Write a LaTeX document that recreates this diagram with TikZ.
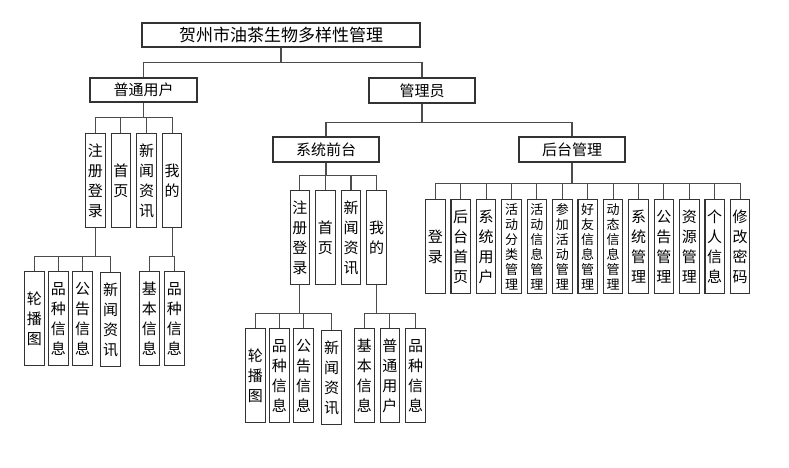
\documentclass[tikz,border=0pt]{standalone}
\usepackage{fontspec}
\newfontfamily\cjk{Noto Sans CJK SC}
\usepackage{tikz}
\usetikzlibrary{positioning}

\begin{document}
\begin{tikzpicture}[x=1pt, y=-1pt,
  box/.style={draw=black!80, line width=1.1pt, inner sep=0pt, align=center},
  hbox/.style={box, minimum width=106pt, minimum height=25pt, font=\cjk\fontsize{15}{18}\selectfont},
  vbox/.style={box, minimum width=19.5pt, minimum height=94pt, font=\cjk\fontsize{15}{20}\selectfont},
  vboxs/.style={vbox, font=\cjk\fontsize{13}{15}\selectfont},
  link/.style={draw=black!70, line width=1.1pt}
]
  \useasboundingbox (0,0) rectangle (789,468);

  % Level 1: Root and roles
  \node[hbox, minimum width=278pt, minimum height=24pt, font=\cjk\fontsize{17}{20}\selectfont] (root) at (281,35) {贺州市油茶生物多样性管理};
  \node[hbox, minimum width=107pt, minimum height=24pt] (user) at (143.5,90) {普通用户};
  \node[hbox] (admin) at (422,90.5) {管理员};
  \draw[link] (root.south) -- ++(0,15) -| (user.north);
  \draw[link] (root.south) -- ++(0,15) -| (admin.north);

  % Level 2: Admin parts
  \node[hbox] (front) at (326,149.5) {系统前台};
  \node[hbox] (back) at (572,149.5) {后台管理};
  \draw[link] (admin.south) -- ++(0,19) -| (front.north);
  \draw[link] (admin.south) -- ++(0,19) -| (back.north);

  % Normal user
  \node[vbox, anchor=north west] (u_reg) at (85,133) {注\\册\\登\\录};
  \node[vbox, right=5pt of u_reg] (u_home) {首\\页};
  \node[vbox, right=5pt of u_home] (u_news) {新\\闻\\资\\讯};
  \node[vbox, right=5pt of u_news] (u_mine) {我\\的};
  \draw[link] (user.south) -- ++(0,15) -| (u_reg.north);
  \draw[link] (user.south) -- ++(0,15) -| (u_home.north);
  \draw[link] (user.south) -- ++(0,15) -| (u_news.north);
  \draw[link] (user.south) -- ++(0,15) -| (u_mine.north);

  \node[vbox, anchor=north west] (u_slide) at (24,271) {轮\\播\\图};
  \node[vbox, right=3.5pt of u_slide] (u_breed) {品\\种\\信\\息};
  \node[vbox, right=3.5pt of u_breed] (u_notice) {公\\告\\信\\息};
  \node[vbox, right=7.5pt of u_notice, yshift=-1pt] (u_info) {新\\闻\\资\\讯};
  \draw[link] (u_reg.south) -- ++(0,28) -| (u_slide.north);
  \draw[link] (u_reg.south) -- ++(0,28) -| (u_breed.north);
  \draw[link] (u_reg.south) -- ++(0,28) -| (u_notice.north);
  \draw[link] (u_reg.south) -- ++(0,28) -| (u_info.north);

  \node[vbox, anchor=north west] (u_basic) at (139,271) {基\\本\\信\\息};
  \node[vbox, right=4.5pt of u_basic] (u_mbreed) {品\\种\\信\\息};
  \draw[link] (u_mine.south) -- ++(0,28) -| (u_basic.north);
  \draw[link] (u_mine.south) -- ++(0,28) -| (u_mbreed.north);

  % Front end
  \node[vbox, anchor=north west] (f_reg) at (289.5,190) {注\\册\\登\\录};
  \node[vbox, right=5pt of f_reg] (f_home) {首\\页};
  \node[vbox, right=5pt of f_home] (f_news) {新\\闻\\资\\讯};
  \node[vbox, right=5pt of f_news] (f_mine) {我\\的};
  \draw[link] (front.south) -- ++(0,13) -| (f_reg.north);
  \draw[link] (front.south) -- ++(0,13) -| (f_home.north);
  \draw[link] (front.south) -- ++(0,13) -| (f_news.north);
  \draw[link] (front.south) -- ++(0,13) -| (f_mine.north);

  \node[vbox, anchor=north west] (f_slide) at (245,328) {轮\\播\\图};
  \node[vbox, right=3.5pt of f_slide] (f_breed) {品\\种\\信\\息};
  \node[vbox, right=3.5pt of f_breed] (f_notice) {公\\告\\信\\息};
  \node[vbox, right=7.5pt of f_notice, yshift=-2pt] (f_info) {新\\闻\\资\\讯};
  \draw[link] (f_reg.south) -- ++(0,28) -| (f_slide.north);
  \draw[link] (f_reg.south) -- ++(0,28) -| (f_breed.north);
  \draw[link] (f_reg.south) -- ++(0,28) -| (f_notice.north);
  \draw[link] (f_reg.south) -- ++(0,28) -| (f_info.north);

  \node[vbox, anchor=north west] (f_basic) at (354,328) {基\\本\\信\\息};
  \node[vbox, right=5pt of f_basic] (f_user) {普\\通\\用\\户};
  \node[vbox, right=5pt of f_user] (f_mbreed) {品\\种\\信\\息};
  \draw[link] (f_mine.south) -- ++(0,28) -| (f_basic.north);
  \draw[link] (f_mine.south) -- ++(0,28) -| (f_user.north);
  \draw[link] (f_mine.south) -- ++(0,28) -| (f_mbreed.north);

  % Back end
  \node[vbox, anchor=north west] (b_login) at (425,199) {登\\录};
  \node[vbox, right=4.8pt of b_login] (b_home) {后\\台\\首\\页};
  \node[vbox, right=4.8pt of b_home] (b_users) {系\\统\\用\\户};
  \node[vboxs, right=4.8pt of b_users] (b_cat) {活\\动\\分\\类\\管\\理};
  \node[vboxs, right=4.8pt of b_cat] (b_act) {活\\动\\信\\息\\管\\理};
  \node[vboxs, right=4.8pt of b_act] (b_join) {参\\加\\活\\动\\管\\理};
  \node[vboxs, right=4.8pt of b_join] (b_friend) {好\\友\\信\\息\\管\\理};
  \node[vboxs, right=4.8pt of b_friend] (b_feed) {动\\态\\信\\息\\管\\理};
  \node[vbox, right=4.8pt of b_feed] (b_sys) {系\\统\\管\\理};
  \node[vbox, right=4.8pt of b_sys] (b_notice) {公\\告\\管\\理};
  \node[vbox, right=4.8pt of b_notice] (b_res) {资\\源\\管\\理};
  \node[vbox, right=4.8pt of b_res] (b_self) {个\\人\\信\\息};
  \node[vbox, right=4.8pt of b_self] (b_pwd) {修\\改\\密\\码};
  \draw[link] (back.south) -- ++(0,21) -| (b_login.north);
  \draw[link] (back.south) -- ++(0,21) -| (b_home.north);
  \draw[link] (back.south) -- ++(0,21) -| (b_users.north);
  \draw[link] (back.south) -- ++(0,21) -| (b_cat.north);
  \draw[link] (back.south) -- ++(0,21) -| (b_act.north);
  \draw[link] (back.south) -- ++(0,21) -| (b_join.north);
  \draw[link] (back.south) -- ++(0,21) -| (b_friend.north);
  \draw[link] (back.south) -- ++(0,21) -| (b_feed.north);
  \draw[link] (back.south) -- ++(0,21) -| (b_sys.north);
  \draw[link] (back.south) -- ++(0,21) -| (b_notice.north);
  \draw[link] (back.south) -- ++(0,21) -| (b_res.north);
  \draw[link] (back.south) -- ++(0,21) -| (b_self.north);
  \draw[link] (back.south) -- ++(0,21) -| (b_pwd.north);

\end{tikzpicture}
\end{document}
